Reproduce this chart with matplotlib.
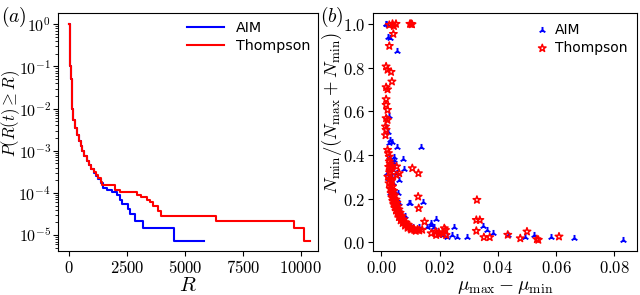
import numpy as np
import matplotlib.pyplot as plt
from matplotlib.ticker import FuncFormatter, NullFormatter, FixedLocator

plt.rcParams['mathtext.fontset'] = 'cm'
plt.rcParams['font.family'] = ['DejaVu Sans']

# (a) survival function P(R(t) >= R), step curves
thompson_R = [0, 10, 25, 45, 70, 100, 130, 180, 250, 330, 420, 500, 560, 650, 750,
              850, 950, 1050, 1150, 1250, 1350, 1400, 1975, 2190, 2910, 3120, 3340,
              3480, 3630, 3850, 3950, 6326, 9723, 10143, 10402]
thompson_P = [1.0, 0.3, 0.15, 0.1, 0.05, 0.02, 0.01, 0.0055, 0.0035, 0.0024, 0.0017,
              0.0013, 0.001, 7.5e-4, 5.8e-4, 4.6e-4, 3.7e-4, 3.1e-4, 2.6e-4, 2.2e-4,
              1.85e-4, 1.55e-4, 1.2e-4, 1.06e-4, 8.8e-5, 8.0e-5, 6.6e-5, 6.0e-5, 5.0e-5,
              3.8e-5, 2.88e-5, 2.16e-5, 1.44e-5, 7.2e-6, 7.2e-6]

aim_R = [0, 10, 25, 45, 70, 100, 130, 180, 250, 330, 420, 500, 560, 650, 750,
         850, 950, 1050, 1150, 1250, 1350, 1470, 1615, 1830, 2040, 2190, 2260, 2550,
         2620, 2840, 3200, 4525, 5834]
aim_P = [1.0, 0.3, 0.15, 0.1, 0.05, 0.02, 0.01, 0.0055, 0.0035, 0.0024, 0.0017,
         0.0013, 0.001, 7.5e-4, 5.8e-4, 4.5e-4, 3.6e-4, 3.0e-4, 2.5e-4, 2.1e-4,
         1.75e-4, 1.28e-4, 1.17e-4, 1.06e-4, 8.8e-5, 6.9e-5, 5.5e-5, 4.2e-5, 3.1e-5,
         2.16e-5, 1.44e-5, 7.2e-6, 7.2e-6]

# (b) N_min/(N_max+N_min) against mu_max - mu_min
aim_dmu = [0.0014, 0.0021, 0.0016, 0.0024, 0.0028, 0.0054, 0.0025, 0.0016, 0.0021,
           0.0029, 0.0035, 0.0027, 0.0052, 0.0137, 0.0027, 0.0044, 0.0075, 0.0077,
           0.0043, 0.0043, 0.0041, 0.0035, 0.0019, 0.0055, 0.0059, 0.0024, 0.0029,
           0.0058, 0.0061, 0.0097, 0.0095, 0.0144, 0.0040, 0.0048, 0.0065, 0.0080,
           0.0092, 0.0109, 0.0130, 0.0155, 0.0169, 0.0180, 0.0188, 0.0171, 0.0208,
           0.0224, 0.0242, 0.0248, 0.0259, 0.0293, 0.0350, 0.0361, 0.0384, 0.0434,
           0.0493, 0.0525, 0.0582, 0.0661, 0.0830]
aim_frac = [1.0, 0.995, 1.0, 0.942, 0.935, 0.878, 0.578, 0.53, 0.507, 0.469, 0.461,
            0.453, 0.438, 0.438, 0.392, 0.392, 0.38, 0.336, 0.377, 0.362, 0.331, 0.30,
            0.316, 0.316, 0.285, 0.293, 0.224, 0.224, 0.178, 0.178, 0.179, 0.185, 0.27,
            0.23, 0.15, 0.12, 0.079, 0.072, 0.07, 0.068, 0.087, 0.072, 0.107, 0.079,
            0.034, 0.023, 0.034, 0.072, 0.026, 0.026, 0.075, 0.056, 0.041, 0.034,
            0.023, 0.034, 0.023, 0.018, 0.012]

thompson_dmu = [0.0027, 0.0038, 0.0050, 0.0043, 0.0098, 0.0102, 0.0105, 0.0041,
                0.0027, 0.0016, 0.0021, 0.0033, 0.0036, 0.0016, 0.0021, 0.0016,
                0.0016, 0.0021, 0.0016, 0.0021, 0.0014, 0.0016, 0.0014, 0.0021,
                0.0024, 0.0027, 0.0027, 0.0030, 0.0033, 0.0025, 0.0036, 0.0030,
                0.0028, 0.0052, 0.0052, 0.0061, 0.0106, 0.0127, 0.0036, 0.0126,
                0.0128, 0.0148, 0.0328, 0.0326, 0.0338, 0.0326, 0.0186, 0.0197,
                0.0212, 0.0220, 0.0216, 0.0222, 0.0171, 0.0188, 0.0199, 0.0352,
                0.0372, 0.0434, 0.0477, 0.0500, 0.0534, 0.0539, 0.0610,
                0.0022, 0.0028, 0.0034, 0.0026, 0.0032, 0.0038, 0.0030, 0.0036,
                0.0042, 0.0033, 0.0040, 0.0046, 0.0036, 0.0043, 0.0050, 0.0039,
                0.0046, 0.0053, 0.0042, 0.0049, 0.0056, 0.0046, 0.0053, 0.0060,
                0.0050, 0.0057, 0.0064, 0.0055, 0.0062, 0.0070, 0.0060, 0.0068,
                0.0076, 0.0066, 0.0075, 0.0084, 0.0073, 0.0082, 0.0092, 0.0081,
                0.0090, 0.0100, 0.0090, 0.0100, 0.0110, 0.0102, 0.0113, 0.0124,
                0.0118, 0.0130, 0.0140]
thompson_frac = [0.995, 1.0, 1.0, 0.99, 1.0, 1.0, 0.998, 0.954, 0.899, 0.805, 0.79,
                 0.78, 0.736, 0.71, 0.70, 0.655, 0.629, 0.606, 0.568, 0.56, 0.53,
                 0.515, 0.49, 0.423, 0.408, 0.392, 0.37, 0.36, 0.35, 0.345, 0.34,
                 0.33, 0.32, 0.347, 0.308, 0.316, 0.339, 0.316, 0.285, 0.209, 0.156,
                 0.094, 0.194, 0.102, 0.102, 0.052, 0.049, 0.046, 0.041, 0.056,
                 0.064, 0.033, 0.041, 0.033, 0.037, 0.023, 0.023, 0.034, 0.018,
                 0.049, 0.014, 0.011, 0.026,
                 0.30, 0.29, 0.28, 0.27, 0.26, 0.255, 0.245, 0.24, 0.235, 0.225,
                 0.22, 0.215, 0.205, 0.20, 0.195, 0.19, 0.185, 0.18, 0.175, 0.17,
                 0.165, 0.16, 0.155, 0.15, 0.145, 0.14, 0.135, 0.13, 0.125, 0.12,
                 0.115, 0.11, 0.105, 0.10, 0.095, 0.09, 0.088, 0.083, 0.08, 0.076,
                 0.072, 0.07, 0.066, 0.063, 0.062, 0.058, 0.056, 0.058, 0.052, 0.054,
                 0.057]

fig = plt.figure(figsize=(6.4, 2.95), dpi=100)
W, H = 640, 295
ax1 = fig.add_axes([58 / W, 1 - 251 / H, 260 / W, 238 / H])
ax2 = fig.add_axes([373 / W, 1 - 251 / H, 264 / W, 238 / H])

# panel (a)
ax1.plot(aim_R, aim_P, drawstyle='steps-post', color='blue', lw=1.5, label='AIM')
ax1.plot(thompson_R, thompson_P, drawstyle='steps-post', color='red', lw=1.5,
         label='Thompson')
ax1.set_yscale('log')
ax1.set_xlim(-488, 10747)
ax1.set_ylim(10 ** -5.38, 10 ** 0.27)
ax1.xaxis.set_major_locator(FixedLocator([0, 2500, 5000, 7500, 10000]))
ax1.xaxis.set_major_formatter(FuncFormatter(lambda v, _: r'$%d$' % v))
ax1.yaxis.set_major_locator(FixedLocator([10.0 ** k for k in range(-5, 1)]))
ax1.yaxis.set_major_formatter(FuncFormatter(lambda v, _: r'$10^{%d}$' % round(np.log10(v))))
ax1.yaxis.set_minor_formatter(NullFormatter())
ax1.set_xlabel(r'$R$', fontsize=15, labelpad=-1)
ax1.set_ylabel(r'$P(R(t) \geq R)$', fontsize=12)
ax1.yaxis.set_label_coords(-0.14, 0.58)
ax1.legend(loc='upper right', frameon=False, fontsize=10.3, handlelength=2.6,
           borderaxespad=0.15, labelspacing=0.3)

# panel (b)
ax2.scatter(aim_dmu, aim_frac, marker='2', color='blue', s=26, linewidths=1.4,
            label='AIM', zorder=2)
ax2.scatter(thompson_dmu, thompson_frac, marker='*', facecolors='none',
            edgecolors='red', s=32, linewidths=1.1, label='Thompson', zorder=3)
ax2.set_xlim(-0.0029, 0.0878)
ax2.set_ylim(-0.04, 1.05)
ax2.xaxis.set_major_locator(FixedLocator([0, 0.02, 0.04, 0.06, 0.08]))
ax2.xaxis.set_major_formatter(FuncFormatter(lambda v, _: r'$%.2f$' % v))
ax2.yaxis.set_major_locator(FixedLocator([0, 0.2, 0.4, 0.6, 0.8, 1.0]))
ax2.yaxis.set_major_formatter(FuncFormatter(lambda v, _: r'$%.1f$' % v))
ax2.set_xlabel(r'$\mu_{\max} - \mu_{\min}$', fontsize=14, labelpad=0)
ax2.set_ylabel(r'$N_{\min}/(N_{\max} + N_{\min})$', fontsize=13.5)
ax2.yaxis.set_label_coords(-0.108, 0.58)
ax2.legend(loc='upper right', frameon=False, fontsize=10, handlelength=0.8,
           handletextpad=0.5, borderaxespad=0.3, labelspacing=0.3)

for ax in (ax1, ax2):
    ax.tick_params(labelsize=12, pad=2)
ax1.tick_params(axis='y', labelsize=11.5, pad=1.5)

fig.text(0.002, 0.985, r'$(a)$', fontsize=14, va='top')
fig.text(320 / W, 0.985, r'$(b)$', fontsize=14, va='top')

fig.savefig('out.png', dpi=100)
